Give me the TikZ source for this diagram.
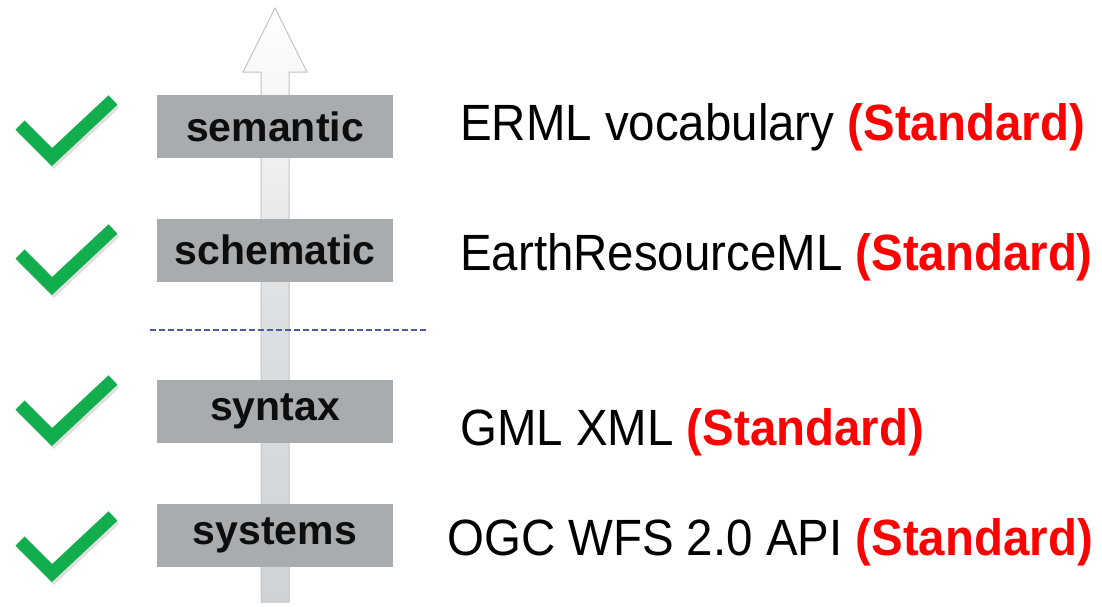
\documentclass[tikz,border=0pt]{standalone}
\usepackage{fontspec}
\setmainfont{Liberation Sans}
\newfontfamily\condfont{Liberation Sans}[FakeStretch=0.93]
\definecolor{boxgray}{HTML}{A8ACAF}
\definecolor{arrowline}{HTML}{BFC3C6}
\definecolor{shaftgray}{HTML}{CFD3D6}
\definecolor{checkgreen}{HTML}{12AE4E}
\definecolor{dashblue}{HTML}{4A5EA8}
\definecolor{stdred}{HTML}{FF0000}
\tikzset{
  layerbox/.style={fill=boxgray, draw=none, minimum width=236pt, minimum height=63pt, inner sep=0pt,
    font=\fontsize{41}{44}\selectfont\bfseries, text=black!95},
  rowtext/.style={anchor=base west, inner sep=0pt, font=\condfont\fontsize{51}{60}\selectfont},
  checkmark/.style={draw=checkgreen, line width=13pt, line join=miter, line cap=butt},
  checkshadow/.style={draw=black, opacity=0.12, line width=13pt, line join=miter, line cap=butt}
}
\newcommand{\stdtag}{\textcolor{stdred}{\bfseries(Standard)}}
\begin{document}
\begin{tikzpicture}[x=1pt,y=-1pt]
\useasboundingbox (0,0) rectangle (1102,606);
% arrow
\path[top color=white, bottom color=shaftgray, middle color=shaftgray!70!white, draw=arrowline, line width=1pt]
  (261,602) -- (261,72) -- (243,72) -- (275,8) -- (307,72) -- (289,72) -- (289,602) -- cycle;
% dashed separator
\coordinate (dl) at (150,330);
\coordinate (dr) at (427,330);
\draw[dashblue, line width=1.3pt, dash pattern=on 6pt off 3pt] (dl) -- (dr);
% layer boxes
\node[layerbox] (semantic) at (275,126.5) {\raisebox{-2pt}{semantic}};
\node[layerbox] (schematic) at (275,250) {\raisebox{-2pt}{schematic}};
\node[layerbox] (syntax) at (275,411.5) {\raisebox{-2pt}{syntax}};
\node[layerbox] (systems) at (275,535.5) {\raisebox{-2pt}{systems}};
% check marks
\foreach \v/\n in {157/c1, 286/c2, 437/c3, 573/c4}{
  \coordinate (\n a) at (20,\v-32);
  \coordinate (\n b) at (52,\v);
  \coordinate (\n c) at (113,\v-57);
  \draw[checkshadow] ([shift={(2,3)}]\n a) -- ([shift={(2,3)}]\n b) -- ([shift={(2,3)}]\n c);
  \draw[checkmark] (\n a) -- (\n b) -- (\n c);
}
% right texts
\node[rowtext] (t1) at (460,140) {ERML vocabulary \stdtag};
\node[rowtext] (t2) at (460,270) {EarthResourceML \stdtag};
\node[rowtext] (t3) at (460,445) {GML XML \stdtag};
\node[rowtext] (t4) at (447,555) {OGC WFS 2.0 API \stdtag};
\end{tikzpicture}
\end{document}
